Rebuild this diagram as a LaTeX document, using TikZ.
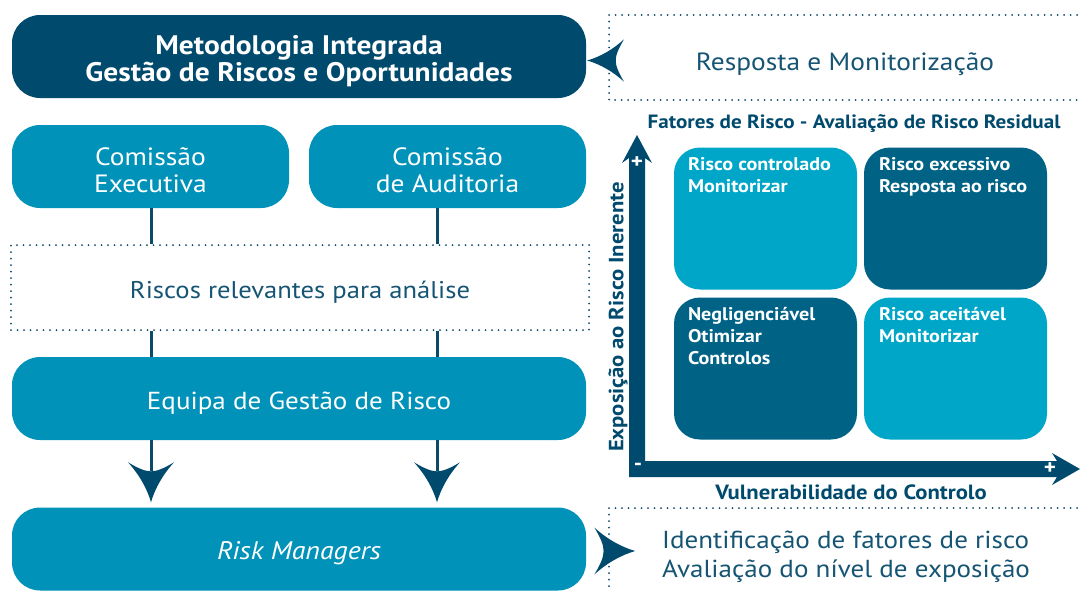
\documentclass[tikz,border=0pt]{standalone}
\usepackage{fontspec}
\setmainfont{PT Sans}[FakeStretch=1.1]
\usetikzlibrary{calc}
\definecolor{navy}{RGB}{0,74,110}
\definecolor{mid}{RGB}{0,146,184}
\definecolor{light}{RGB}{0,166,200}
\definecolor{dark}{RGB}{0,99,133}
\definecolor{txt}{RGB}{22,84,115}
\definecolor{ln}{RGB}{12,74,105}
\tikzset{
 bigbox/.style={rounded corners=28pt, minimum width=574pt, minimum height=83pt, inner sep=0pt},
 combox/.style={rounded corners=28pt, minimum width=277pt, minimum height=83pt, inner sep=0pt, fill=mid},
 btext/.style={text=white, align=center, inner sep=0pt},
 quad/.style={rounded corners=26pt, minimum width=183pt, minimum height=142pt, inner sep=0pt},
 qtext/.style={anchor=north west, inner sep=0pt, text=white, align=left, font=\bfseries\fontsize{18.3}{22}\selectfont},
 dots/.style={draw=ln, line width=2pt, line cap=round, dash pattern=on 0pt off 6.5pt},
 conn/.style={draw=ln, line width=3pt},
 axlab/.style={text=navy, font=\bfseries\fontsize{20.6}{22}\selectfont},
 sign/.style={text=white, font=\bfseries\fontsize{21}{21}\selectfont, inner sep=0pt},
 ahead/.pic={\fill[navy] (0,0) .. controls (-14,-4) and (-28,-12) .. (-40,-23) .. controls (-34,-13) and (-31,-6) .. (-31,0) .. controls (-31,6) and (-34,13) .. (-40,23) .. controls (-28,12) and (-14,4) .. (0,0) -- cycle;}
}
\begin{document}
\begin{tikzpicture}[x=1pt,y=-1pt]
\useasboundingbox (0,0) rectangle (1081,590);
% left column
\node[bigbox, fill=navy, label={[btext, yshift=-5pt, font=\bfseries\fontsize{26.8}{27}\selectfont]center:Metodologia Integrada\\Gestão de Riscos e Oportunidades}] (top) at (299,56.5) {};
\node[combox, label={[btext, yshift=-4pt, font=\fontsize{25}{27}\selectfont]center:Comissão\\Executiva}] (exec) at (150.5,166.5) {};
\node[combox, label={[btext, yshift=-4pt, font=\fontsize{25}{27}\selectfont]center:Comissão\\de Auditoria}] (audit) at (447.5,166.5) {};
\node[dots, minimum width=578pt, minimum height=85pt, inner sep=0pt, label={[btext, text=txt, yshift=-5pt, font=\fontsize{24.2}{27}\selectfont]center:Riscos relevantes para análise}] (riscos) at (300,287.5) {};
\node[bigbox, fill=mid, label={[btext, yshift=-5pt, font=\fontsize{24.6}{27}\selectfont]center:Equipa de Gestão de Risco}] (equipa) at (299,398.5) {};
\node[bigbox, fill=mid, label={[btext, yshift=-4pt, font=\itshape\fontsize{25.4}{27}\selectfont]center:Risk Managers}] (rm) at (299,549) {};
\coordinate (x1) at (151,0);
\coordinate (x2) at (437,0);
\draw[conn] (exec.south -| x1) -- (riscos.north -| x1);
\draw[conn] (audit.south -| x2) -- (riscos.north -| x2);
\draw[conn] (riscos.south -| x1) -- (equipa.north -| x1);
\draw[conn] (riscos.south -| x2) -- (equipa.north -| x2);
\draw[conn, shorten >=36pt] (equipa.south -| x1) -- (rm.north -| x1);
\draw[conn, shorten >=36pt] (equipa.south -| x2) -- (rm.north -| x2);
\pic[rotate=-90] at ($(rm.north -| x1)+(0,-5)$) {ahead};
\pic[rotate=-90] at ($(rm.north -| x2)+(0,-5)$) {ahead};
% right texts
\draw[dots] (1090,15) -- (609,15) -- (609,100) -- (1090,100);
\node[text=txt, font=\fontsize{24.9}{28}\selectfont] (resp) at (845,64) {Resposta e Monitorização};
\pic[rotate=180, scale=0.92] at ($(top.east)+(1,4)$) {ahead};
\draw[dots] (1090,508) -- (609,508) -- (609,600);
\node[anchor=west, align=left, inner sep=0pt, text=txt, font=\fontsize{24.6}{28.5}\selectfont] (ident) at (662,557) {Identificação de fatores de risco\\Avaliação do nível de exposição};
\pic[scale=1.02] at ($(rm.east)+(49,2)$) {ahead};
% matrix
\node[text=navy, font=\bfseries\fontsize{19.2}{20}\selectfont] (title) at (854,124) {Fatores de Risco - Avaliação de Risco Residual};
\node[quad, fill=light] (q1) at (765.5,218.5) {};
\node[quad, fill=dark] (q2) at (955.5,218.5) {};
\node[quad, fill=dark] (q3) at (765.5,368.5) {};
\node[quad, fill=light] (q4) at (955.5,368.5) {};
\node[qtext] at ($(q1.north west)+(14,10)$) {Risco controlado\\Monitorizar};
\node[qtext] at ($(q2.north west)+(15,10)$) {Risco excessivo\\Resposta ao risco};
\node[qtext] at ($(q3.north west)+(14,10)$) {Negligenciável\\Otimizar\\Controlos};
\node[qtext] at ($(q4.north west)+(15,10)$) {Risco aceitável\\Monitorizar};
\fill[navy] (629,477) -- (629,158) -- (622,163) -- (637,135) -- (652,163) -- (645,158) -- (645,461)
  -- (1057,461) -- (1052,453) -- (1080,469) -- (1052,485) -- (1057,477) -- cycle;
\node[sign] at (637,163) {+};
\node[sign] at (638,467) {-};
\node[sign] at (1050,469) {+};
\node[axlab, rotate=90] (ylab) at (618,317) {Exposição ao Risco Inerente};
\node[axlab] (xlab) at (851,492) {Vulnerabilidade do Controlo};
\end{tikzpicture}
\end{document}
